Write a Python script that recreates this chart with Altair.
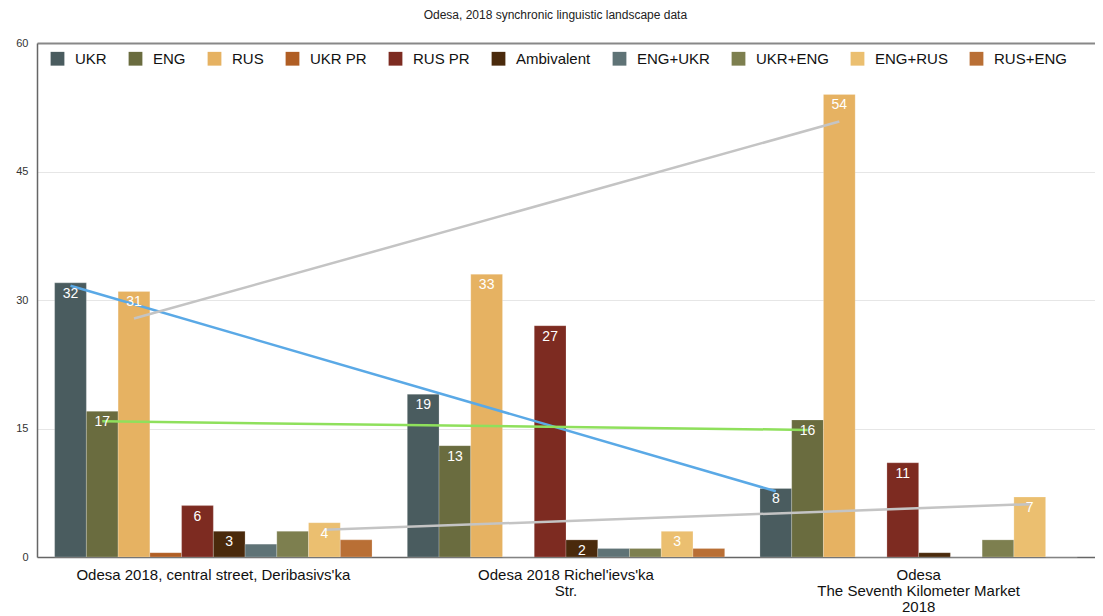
import altair as alt
import pandas as pd

groups = ["Odesa 2018, central street, Deribasivs'ka",
          "Odesa 2018 Richel'ievs'ka\nStr.",
          "Odesa\nThe Seventh Kilometer Market\n2018"]
series = ["UKR", "ENG", "RUS", "UKR PR", "RUS PR", "Ambivalent",
          "ENG+UKR", "UKR+ENG", "ENG+RUS", "RUS+ENG"]

ukr = [32, 19, 8]
eng = [17, 13, 16]
rus = [31, 33, 54]
ukr_pr = [0.5, 0, 0]
rus_pr = [6, 27, 11]
ambivalent = [3, 2, 0.5]
eng_ukr = [1.5, 1, 0]
ukr_eng = [3, 1, 2]
eng_rus = [4, 3, 7]
rus_eng = [2, 1, 0]
values = [ukr, eng, rus, ukr_pr, rus_pr, ambivalent, eng_ukr, ukr_eng, eng_rus, rus_eng]

colors = ["#4a5c5f", "#6a6c3f", "#e6b262", "#b05e24", "#7d2b21", "#4a2a0c",
          "#5f7376", "#7d7f4f", "#ebbf70", "#b96f35"]
labelled = ["UKR", "ENG", "RUS", "RUS PR", "Ambivalent", "ENG+RUS"]
trend_series = ["UKR", "ENG", "RUS", "ENG+RUS"]
trend_colors = ["#5aa9e6", "#8fe05c", "#c4c4c4", "#c4c4c4"]

rows = []
for s, vals in zip(series, values):
    for gi, (g, v) in enumerate(zip(groups, vals)):
        rows.append({"group": g, "gi": gi, "series": s, "value": v})
df = pd.DataFrame(rows)
group_lookup = [{"gi": i, "group": g} for i, g in enumerate(groups)]

FONT = "Liberation Sans"

x_enc = alt.X("group:N", scale=alt.Scale(domain=groups, paddingInner=0.1, paddingOuter=0.05),
              axis=alt.Axis(title=None, labelAngle=0, labelFontSize=15, labelColor="#111",
                            labelPadding=10, labelLineHeight=16, ticks=False, labelLimit=0,
                            domainColor="#666", domainWidth=1.5,
                            labelExpr="split(datum.label, '\\n')"))
xo_enc = alt.XOffset("series:N", scale=alt.Scale(domain=series, paddingInner=0, paddingOuter=0))
y_enc = alt.Y("value:Q", scale=alt.Scale(domain=[0, 60]),
              axis=alt.Axis(title=None, values=[0, 15, 30, 45, 60], ticks=False,
                            labelFontSize=11, labelColor="#333", labelPadding=9,
                            domainColor="#666", domainWidth=1.5,
                            gridColor={"condition": {"test": "datum.value === 60", "value": "#888"}, "value": "#e6e6e6"},
                            gridWidth={"condition": {"test": "datum.value === 60", "value": 2}, "value": 1}))

base = alt.Chart(df)

bars = base.mark_bar(stroke="#ffffff", strokeOpacity=0.35, strokeWidth=0.6).encode(
    x=x_enc, xOffset=xo_enc, y=y_enc,
    color=alt.Color("series:N", scale=alt.Scale(domain=series, range=colors),
                    legend=alt.Legend(orient="none", legendX=13, legendY=8, direction="horizontal",
                                      columns=10, title=None, symbolType="square", symbolSize=190,
                                      symbolStrokeWidth=0, labelFontSize=15, labelColor="#111",
                                      columnPadding=21, labelOffset=10, padding=0)),
)

labels = base.transform_filter(
    alt.FieldOneOfPredicate(field="series", oneOf=labelled)
).transform_filter("datum.value >= 1").mark_text(
    baseline="top", dy=4, color="white", fontSize=14, font=FONT
).encode(x=x_enc, xOffset=xo_enc, y=y_enc, text=alt.Text("value:Q"))

trend = base.transform_filter(
    alt.FieldOneOfPredicate(field="series", oneOf=trend_series)
).transform_regression(
    "gi", "value", groupby=["series"], extent=[0, 2]
).transform_lookup(
    lookup="gi", from_=alt.LookupData(data=alt.InlineData(values=group_lookup), key="gi", fields=["group"])
).mark_line(strokeWidth=2.5).encode(
    x=x_enc, xOffset=xo_enc, y=y_enc,
    stroke=alt.Stroke("series:N", scale=alt.Scale(domain=trend_series, range=trend_colors), legend=None),
    detail="series:N",
)

chart = alt.layer(bars, trend, labels).resolve_scale(color="independent").properties(
    width=1058, height=514,
    title=alt.TitleParams("Odesa, 2018 synchronic linguistic landscape data", fontSize=12,
                          fontWeight="normal", color="#222", frame="bounds", anchor="middle",
                          offset=15, font=FONT),
    padding={"left": 7, "top": 1, "right": 0, "bottom": 0},
).configure(font=FONT).configure_view(stroke=None)

chart.save("out.html", embed_options={"renderer": "svg", "actions": False})
